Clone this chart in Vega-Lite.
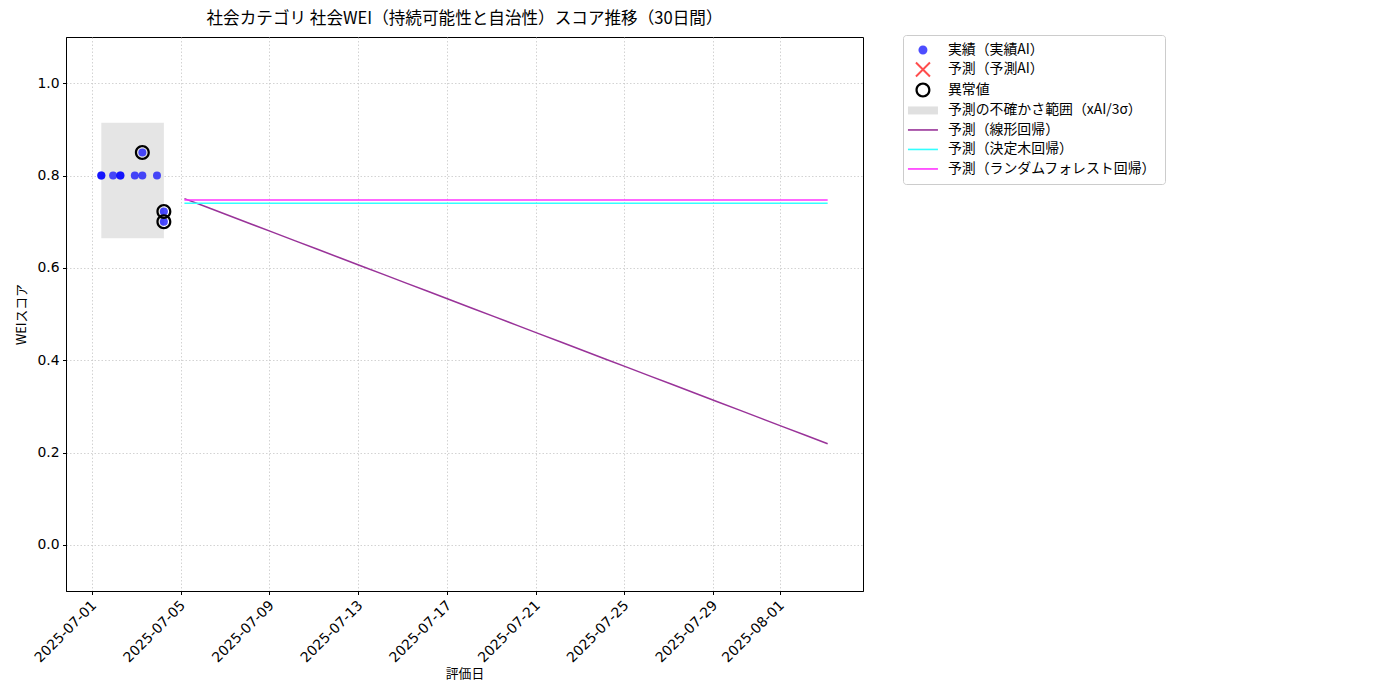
{
  "$schema": "https://vega.github.io/schema/vega-lite/v6.json",
  "width": 797,
  "height": 554,
  "autosize": {"type": "none"},
  "padding": {"left": 66, "top": 37, "right": 537, "bottom": 109},
  "background": "white",
  "title": {"text": "社会カテゴリ 社会WEI（持続可能性と自治性）スコア推移（30日間）", "fontSize": 16.6, "fontWeight": "normal", "font": "Noto Sans CJK JP", "color": "black", "offset": 7},
  "config": {
    "font": "Noto Sans CJK JP",
    "view": {"stroke": "black", "strokeWidth": 1},
    "axis": {"labelFontSize": 13.9, "labelColor": "black", "labelFont": "DejaVu Sans", "labelOverlap": false, "titleFont": "Noto Sans CJK JP", "titleFontSize": 12.8, "titleFontWeight": "normal", "titleColor": "black", "tickColor": "black", "domainColor": "black", "gridColor": "#c8c8c8", "gridDash": [1.5, 2], "gridWidth": 0.8, "tickSize": 3.5, "labelPadding": 3.5}
  },
  "datasets": {
    "actual": [
      {"date": "2025-07-01T10:05:00", "value": 0.8},
      {"date": "2025-07-01T10:05:00", "value": 0.8},
      {"date": "2025-07-01T22:50:00", "value": 0.8},
      {"date": "2025-07-02T06:43:00", "value": 0.8},
      {"date": "2025-07-02T06:43:00", "value": 0.8},
      {"date": "2025-07-02T22:19:00", "value": 0.8},
      {"date": "2025-07-03T06:29:00", "value": 0.8},
      {"date": "2025-07-03T06:29:00", "value": 0.85},
      {"date": "2025-07-03T22:19:00", "value": 0.8},
      {"date": "2025-07-04T05:46:00", "value": 0.722},
      {"date": "2025-07-04T05:46:00", "value": 0.70}
    ],
    "outlier": [
      {"date": "2025-07-03T06:29:00", "value": 0.85, "series": "異常値"},
      {"date": "2025-07-04T05:46:00", "value": 0.722, "series": "異常値"},
      {"date": "2025-07-04T05:46:00", "value": 0.70, "series": "異常値"}
    ],
    "band": [
      {"date": "2025-07-01T10:05:00", "date2": "2025-07-04T05:46:00", "value": 0.664, "value2": 0.914}
    ],
    "pred": [
      {"date": "2025-07-05T04:00:00", "linear": 0.750, "tree": 0.740, "rf": 0.747},
      {"date": "2025-07-06T04:00:00", "linear": 0.7317, "tree": 0.740, "rf": 0.747},
      {"date": "2025-07-07T04:00:00", "linear": 0.7134, "tree": 0.740, "rf": 0.747},
      {"date": "2025-07-08T04:00:00", "linear": 0.6951, "tree": 0.740, "rf": 0.747},
      {"date": "2025-07-09T04:00:00", "linear": 0.6768, "tree": 0.740, "rf": 0.747},
      {"date": "2025-07-10T04:00:00", "linear": 0.6585, "tree": 0.740, "rf": 0.747},
      {"date": "2025-07-11T04:00:00", "linear": 0.6401, "tree": 0.740, "rf": 0.747},
      {"date": "2025-07-12T04:00:00", "linear": 0.6218, "tree": 0.740, "rf": 0.747},
      {"date": "2025-07-13T04:00:00", "linear": 0.6035, "tree": 0.740, "rf": 0.747},
      {"date": "2025-07-14T04:00:00", "linear": 0.5852, "tree": 0.740, "rf": 0.747},
      {"date": "2025-07-15T04:00:00", "linear": 0.5669, "tree": 0.740, "rf": 0.747},
      {"date": "2025-07-16T04:00:00", "linear": 0.5486, "tree": 0.740, "rf": 0.747},
      {"date": "2025-07-17T04:00:00", "linear": 0.5303, "tree": 0.740, "rf": 0.747},
      {"date": "2025-07-18T04:00:00", "linear": 0.5120, "tree": 0.740, "rf": 0.747},
      {"date": "2025-07-19T04:00:00", "linear": 0.4937, "tree": 0.740, "rf": 0.747},
      {"date": "2025-07-20T04:00:00", "linear": 0.4754, "tree": 0.740, "rf": 0.747},
      {"date": "2025-07-21T04:00:00", "linear": 0.4570, "tree": 0.740, "rf": 0.747},
      {"date": "2025-07-22T04:00:00", "linear": 0.4387, "tree": 0.740, "rf": 0.747},
      {"date": "2025-07-23T04:00:00", "linear": 0.4204, "tree": 0.740, "rf": 0.747},
      {"date": "2025-07-24T04:00:00", "linear": 0.4021, "tree": 0.740, "rf": 0.747},
      {"date": "2025-07-25T04:00:00", "linear": 0.3838, "tree": 0.740, "rf": 0.747},
      {"date": "2025-07-26T04:00:00", "linear": 0.3655, "tree": 0.740, "rf": 0.747},
      {"date": "2025-07-27T04:00:00", "linear": 0.3472, "tree": 0.740, "rf": 0.747},
      {"date": "2025-07-28T04:00:00", "linear": 0.3289, "tree": 0.740, "rf": 0.747},
      {"date": "2025-07-29T04:00:00", "linear": 0.3106, "tree": 0.740, "rf": 0.747},
      {"date": "2025-07-30T04:00:00", "linear": 0.2923, "tree": 0.740, "rf": 0.747},
      {"date": "2025-07-31T04:00:00", "linear": 0.2739, "tree": 0.740, "rf": 0.747},
      {"date": "2025-08-01T04:00:00", "linear": 0.2556, "tree": 0.740, "rf": 0.747},
      {"date": "2025-08-02T04:00:00", "linear": 0.2373, "tree": 0.740, "rf": 0.747},
      {"date": "2025-08-03T04:00:00", "linear": 0.2190, "tree": 0.740, "rf": 0.747}
    ]
  },
  "encoding": {
    "x": {
      "field": "date", "type": "temporal",
      "scale": {"domain": [{"year": 2025, "month": 6, "date": 29, "hours": 19, "minutes": 52}, {"year": 2025, "month": 8, "date": 4, "hours": 18, "minutes": 14}]},
      "axis": {
        "title": "評価日", "format": "%Y-%m-%d", "formatType": "time",
        "values": [
          {"year": 2025, "month": 7, "date": 1}, {"year": 2025, "month": 7, "date": 5}, {"year": 2025, "month": 7, "date": 9},
          {"year": 2025, "month": 7, "date": 13}, {"year": 2025, "month": 7, "date": 17}, {"year": 2025, "month": 7, "date": 21},
          {"year": 2025, "month": 7, "date": 25}, {"year": 2025, "month": 7, "date": 29}, {"year": 2025, "month": 8, "date": 1}
        ],
        "labelAngle": -45, "labelAlign": "right", "labelBaseline": "top", "labelOffset": -3, "titlePadding": 3, "grid": true
      }
    },
    "y": {
      "field": "value", "type": "quantitative",
      "scale": {"domain": [-0.1, 1.1], "nice": false, "zero": false},
      "axis": {"title": "WEIスコア", "values": [0, 0.2, 0.4, 0.6, 0.8, 1.0], "format": ".1f", "titlePadding": 8, "grid": true}
    }
  },
  "layer": [
    {
      "data": {"name": "band"},
      "mark": {"type": "rect", "color": "#e5e5e5"},
      "encoding": {"x2": {"field": "date2"}, "y2": {"field": "value2"}}
    },
    {
      "data": {"name": "pred"},
      "transform": [{"fold": ["linear"], "as": ["model", "value"]}],
      "mark": {"type": "line", "color": "#993399", "strokeWidth": 1.5},
      "encoding": {}
    },
    {
      "data": {"name": "pred"},
      "transform": [{"fold": ["tree"], "as": ["model", "value"]}],
      "mark": {"type": "line", "color": "#33ffff", "strokeWidth": 1.5},
      "encoding": {}
    },
    {
      "data": {"name": "pred"},
      "transform": [{"fold": ["rf"], "as": ["model", "value"]}],
      "mark": {"type": "line", "color": "#ff33ff", "strokeWidth": 1.5},
      "encoding": {}
    },
    {
      "data": {"name": "actual"},
      "mark": {"type": "point", "filled": true, "shape": "circle", "color": "blue", "opacity": 0.7, "size": 64, "strokeWidth": 0}
    },
    {
      "data": {"name": "outlier"},
      "mark": {"type": "point", "filled": true, "size": 100, "opacity": 1, "strokeWidth": 0},
      "encoding": {
        "color": {
          "field": "series", "type": "nominal",
          "scale": {
            "domain": ["実績（実績AI）", "予測（予測AI）", "異常値", "予測の不確かさ範囲（xAI/3σ）", "予測（線形回帰）", "予測（決定木回帰）", "予測（ランダムフォレスト回帰）"],
            "range": ["#4d4dff", "#ff4d4d", "black", "#e0e0e0", "#993399", "#33ffff", "#ff33ff"]
          },
          "legend": {
            "title": null, "orient": "none", "legendX": 837, "legendY": -2,
            "symbolSize": 100, "symbolStrokeWidth": 0, "symbolOpacity": 1, "symbolOffset": 5,
            "labelFontSize": 13.9, "labelFont": "Noto Sans CJK JP", "labelColor": "black", "labelOffset": 18, "labelLimit": 0,
            "rowPadding": 4.5, "padding": 8, "strokeColor": "#cccccc", "fillColor": "white", "cornerRadius": 3
          }
        },
        "shape": {
          "field": "series", "type": "nominal",
          "scale": {
            "domain": ["実績（実績AI）", "予測（予測AI）", "異常値", "予測の不確かさ範囲（xAI/3σ）", "予測（線形回帰）", "予測（決定木回帰）", "予測（ランダムフォレスト回帰）"],
            "range": [
              "M-0.9,0A0.9,0.9,0,1,0,0.9,0A0.9,0.9,0,1,0,-0.9,0Z",
              "M-1.26,-1.54L1.54,1.26L1.26,1.54L-1.54,-1.26ZM-1.54,1.26L1.26,-1.54L1.54,-1.26L-1.26,1.54Z",
              "M-1.5,0A1.5,1.5,0,1,0,1.5,0A1.5,1.5,0,1,0,-1.5,0ZM-1.05,0A1.05,1.05,0,1,1,1.05,0A1.05,1.05,0,1,1,-1.05,0Z",
              "M-3,-0.8H3V0.8H-3Z",
              "M-3,-0.16H3V0.16H-3Z",
              "M-3,-0.16H3V0.16H-3Z",
              "M-3,-0.16H3V0.16H-3Z"
            ]
          }
        }
      }
    }
  ]
}
